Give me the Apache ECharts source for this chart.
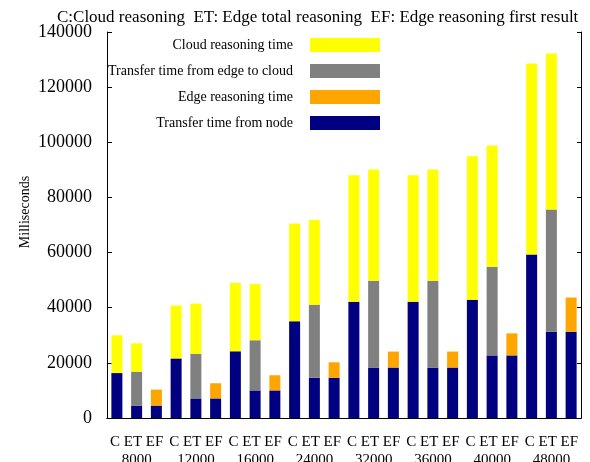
<!DOCTYPE html>
<html>
<head>
<meta charset="utf-8">
<script src="https://cdn.jsdelivr.net/npm/echarts@6/dist/echarts.min.js"></script>
<style>
  html, body { margin: 0; padding: 0; background: #fff; }
  #chart { width: 590px; height: 462px; }
</style>
</head>
<body>
<div id="chart"></div>
<script>
// one bar per category: C, ET, EF for each node count
const barNames = ['C', 'ET', 'EF'];
const groups = ['8000', '12000', '16000', '24000', '32000', '36000', '40000', '48000'];
const categories = [];
groups.forEach(function(g) {
    barNames.forEach(function(b) { categories.push(g + ' ' + b); });
});
const groupLabels = groups.map(function(g) { return 'C ET EF\n' + g; });

// stacked segments (ms), '-' = segment not present in that bar
const transferFromNode = [16300, 4500, 4500, 21600, 7100, 7100, 24200, 10000, 10000, 35100, 14600, 14600,
    42200, 18300, 18300, 42200, 18300, 18300, 42900, 22700, 22700, 59300, 31300, 31300];
const transferEdgeToCloud = ['-', 12300, '-', '-', 16200, '-', '-', 18200, '-', '-', 26500, '-',
    '-', 31500, '-', '-', 31500, '-', '-', 32200, '-', '-', 44300, '-'];
const edgeReasoning = ['-', '-', 5800, '-', '-', 5500, '-', '-', 5500, '-', '-', 5600,
    '-', '-', 5800, '-', '-', 5800, '-', '-', 8000, '-', '-', 12400];
const cloudReasoning = [13700, 10300, '-', 19200, 18200, '-', 24800, 20400, '-', 35400, 30800, '-',
    45800, 40300, '-', 45800, 40300, '-', 52000, 43900, '-', 69300, 56600, '-'];

const font = 'Liberation Serif';

const chart = echarts.init(document.getElementById('chart'));

function bar(name, data, color) {
    return {
        name: name,
        type: 'bar',
        stack: 'total',
        xAxisIndex: 0,
        barWidth: 11,
        data: data,
        itemStyle: { color: color },
        animation: false
    };
}

const option = {
    backgroundColor: '#fff',
    textStyle: { fontFamily: font, color: '#000' },
    title: {
        text: 'C:Cloud reasoning  ET: Edge total reasoning  EF: Edge reasoning first result',
        left: 52,
        top: 4,
        textStyle: { fontFamily: font, fontSize: 17, fontWeight: 'normal', color: '#000' }
    },
    legend: {
        orient: 'vertical',
        align: 'right',
        right: 210,
        top: 38,
        padding: 0,
        itemWidth: 70,
        itemHeight: 14,
        itemGap: 12,
        icon: 'rect',
        data: ['Cloud reasoning time', 'Transfer time from edge to cloud', 'Edge reasoning time', 'Transfer time from node'],
        textStyle: { fontFamily: font, fontSize: 14, color: '#000', lineHeight: 14, padding: [0, 12, 0, 0] }
    },
    grid: { left: 107, right: 9, top: 32, bottom: 44, outerBoundsMode: 'none' },
    xAxis: [
        {
            type: 'category',
            data: categories,
            position: 'bottom',
            axisLine: { lineStyle: { color: '#000', width: 1 } },
            axisTick: { show: false },
            axisLabel: { show: false }
        },
        {
            type: 'category',
            data: categories,
            position: 'top',
            axisLine: { lineStyle: { color: '#000', width: 1 } },
            axisTick: { inside: true, alignWithLabel: true, length: 4, lineStyle: { color: '#000' } },
            axisLabel: { show: false }
        },
        {
            type: 'category',
            data: groupLabels,
            position: 'bottom',
            axisLine: { show: false },
            axisTick: { show: false },
            axisLabel: { fontFamily: font, fontSize: 15, color: '#000', lineHeight: 18, margin: 15, interval: 0 }
        }
    ],
    yAxis: [
        {
            type: 'value',
            min: 0,
            max: 140000,
            interval: 20000,
            position: 'left',
            axisLine: { show: true, lineStyle: { color: '#000', width: 1 } },
            axisTick: { show: true, inside: true, length: 5, lineStyle: { color: '#000' } },
            axisLabel: {
                fontFamily: font, fontSize: 18, color: '#000', margin: 15,
                formatter: function(v) { return String(v); }
            },
            splitLine: { show: false }
        },
        {
            type: 'value',
            min: 0,
            max: 140000,
            interval: 20000,
            position: 'right',
            axisLine: { show: true, lineStyle: { color: '#000', width: 1 } },
            axisTick: { show: true, inside: true, length: 4, lineStyle: { color: '#000' } },
            axisLabel: { show: false },
            splitLine: { show: false }
        }
    ],
    graphic: [
        {
            type: 'text',
            x: 25,
            y: 212,
            rotation: Math.PI / 2,
            style: {
                text: 'Milliseconds',
                fontFamily: font,
                fontSize: 14,
                fill: '#000',
                align: 'center',
                verticalAlign: 'middle'
            }
        }
    ],
    series: [
        bar('Transfer time from node', transferFromNode, '#000080'),
        bar('Transfer time from edge to cloud', transferEdgeToCloud, '#808080'),
        bar('Edge reasoning time', edgeReasoning, '#ffa500'),
        bar('Cloud reasoning time', cloudReasoning, '#ffff00')
    ]
};

chart.setOption(option);

window.addEventListener('resize', function() {
    chart.resize();
});
</script>
</body>
</html>
